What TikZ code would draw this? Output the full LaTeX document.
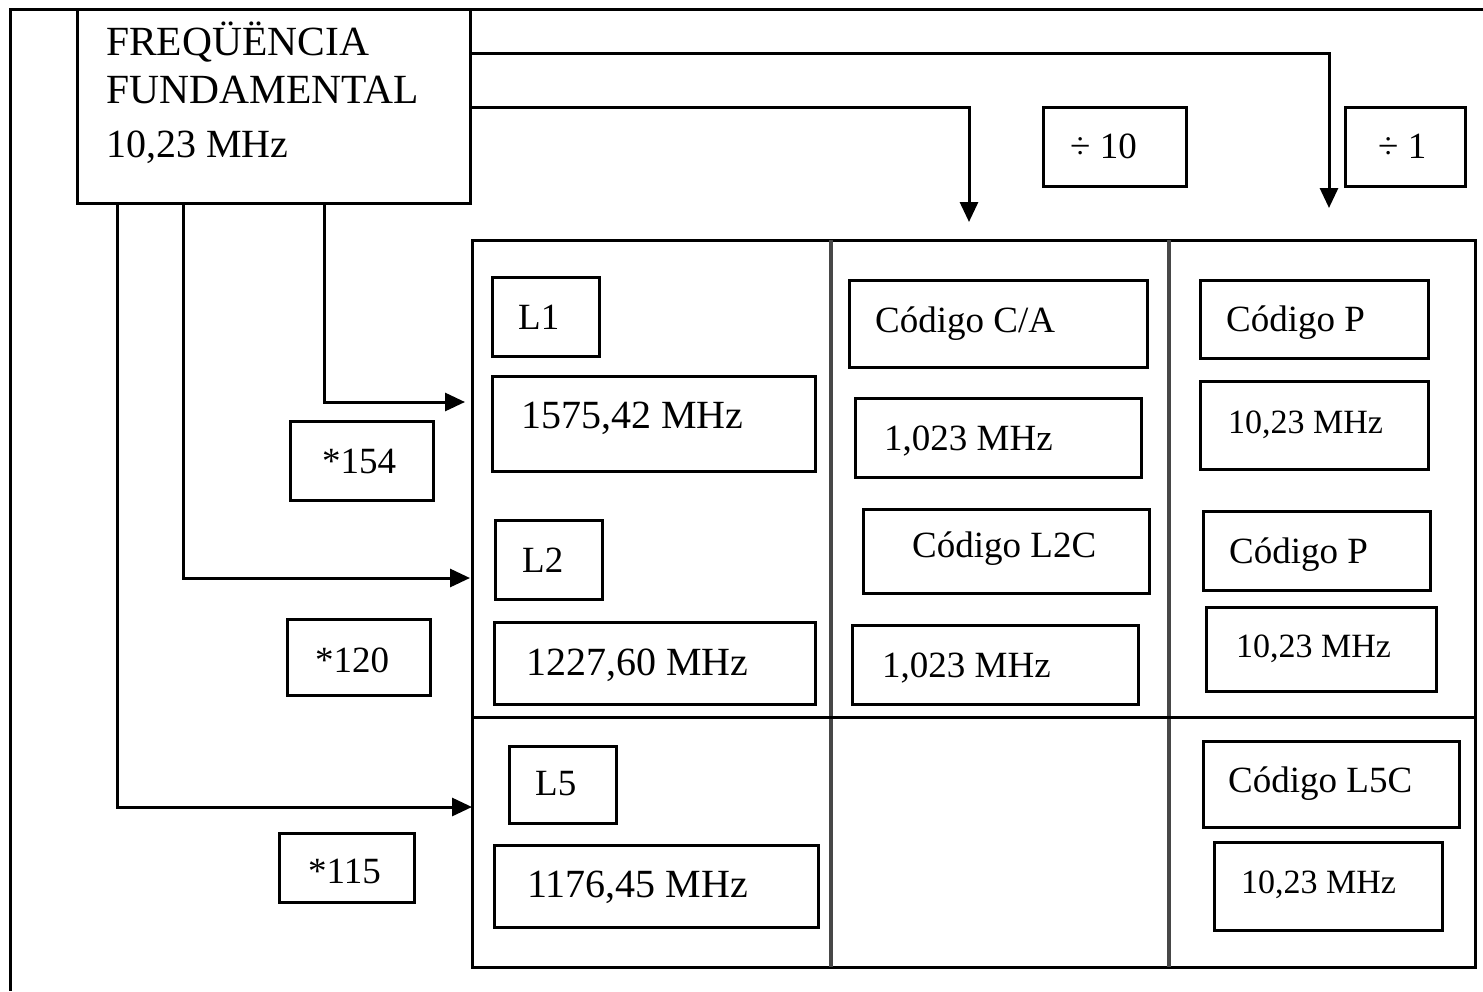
\documentclass[tikz,border=0pt]{standalone}
\usepackage{fontspec}
\setmainfont{Liberation Serif}
\usetikzlibrary{arrows.meta}
\tikzset{
  box/.style={draw, line width=3pt, anchor=north west, inner sep=0pt, outer sep=0pt},
  txt/.style={anchor=base west, inner sep=0pt, font=\fontsize{37}{44}\selectfont},
  big/.style={font=\fontsize{40}{48}\selectfont},
  huge/.style={font=\fontsize{41.5}{48}\selectfont},
  narrow/.style={font=\fontsize{34}{40}\selectfont},
  conn/.style={line width=3pt, -{Triangle[length=20pt,width=18pt]}},
  frameline/.style={line width=3pt},
  divider/.style={line width=3.2pt, draw=black!72},
}
\newcommand\bx[5]{\node[box, minimum width={#4pt-#2pt}, minimum height={#5pt-#3pt}] (#1) at (#2,#3) {};}
\begin{document}
\begin{tikzpicture}[x=1pt,y=-1pt]
\useasboundingbox (0,0) rectangle (1483,991);
% outer frame
\draw[frameline] (1483,9) -- (10,9) -- (10,991);
% fundamental frequency box
\bx{freq}{77}{9}{470}{203}
\node[txt,huge] (freq-t1) at (106,55) {FREQÜËNCIA};
\node[txt,huge] (freq-t2) at (106,103) {FUNDAMENTAL};
\node[txt,big] (freq-t3) at (106,157) {10,23 MHz};
% dividers boxes
\bx{div10}{1043}{107}{1186}{186}
\node[txt] (div10-t) at (1070,158) {÷ 10};
\bx{div1}{1345}{107}{1465}{186}
\node[txt] (div1-t) at (1378,158) {÷ 1};
% table
\bx{tbl}{472}{240}{1475}{967}
\draw[divider] (831,240) -- (831,967);
\draw[divider] (1169,240) -- (1169,967);
\draw[line width=3pt] (472,717) -- (1475,717);
% multipliers
\bx{m154}{290}{421}{433}{500}
\node[txt] (m154-t) at (322,473) {*154};
\bx{m120}{287}{619}{430}{695}
\node[txt] (m120-t) at (315,672) {*120};
\bx{m115}{279}{833}{414}{902}
\node[txt] (m115-t) at (308,883) {*115};
% left column
\bx{L1}{492}{277}{599}{356}
\node[txt] (L1-t) at (518,329) {L1};
\bx{f1}{492}{376}{815}{471}
\node[txt,big] (f1-t) at (521,428) {1575,42 MHz};
\bx{L2}{495}{520}{602}{599}
\node[txt] (L2-t) at (522,572) {L2};
\bx{f2}{494}{622}{815}{704}
\node[txt,big] (f2-t) at (526,675) {1227,60 MHz};
\bx{L5}{509}{746}{616}{823}
\node[txt] (L5-t) at (535,795) {L5};
\bx{f5}{494}{845}{818}{927}
\node[txt,big] (f5-t) at (527,897) {1176,45 MHz};
% middle column
\bx{ca}{849}{280}{1147}{367}
\node[txt] (ca-t) at (875,332) {Código C/A};
\bx{caf}{855}{398}{1141}{477}
\node[txt] (caf-t) at (884,450) {1,023 MHz};
\bx{l2c}{863}{509}{1149}{593}
\node[txt] (l2c-t) at (912,557) {Código L2C};
\bx{l2cf}{852}{625}{1138}{704}
\node[txt] (l2cf-t) at (882,677) {1,023 MHz};
% right column
\bx{p1}{1200}{280}{1428}{358}
\node[txt] (p1-t) at (1226,331) {Código P};
\bx{p1f}{1200}{381}{1428}{469}
\node[txt,narrow] (p1f-t) at (1228,433) {10,23 MHz};
\bx{p2}{1203}{511}{1430}{590}
\node[txt] (p2-t) at (1229,563) {Código P};
\bx{p2f}{1206}{607}{1436}{691}
\node[txt,narrow] (p2f-t) at (1236,657) {10,23 MHz};
\bx{l5c}{1203}{741}{1459}{827}
\node[txt] (l5c-t) at (1228,792) {Código L5C};
\bx{l5cf}{1214}{842}{1442}{930}
\node[txt,narrow] (l5cf-t) at (1241,893) {10,23 MHz};
% connectors
\coordinate (tipP) at (1329,208);
\coordinate (tipCA) at (969,222);
\draw[conn] ([yshift=-44pt]freq.north east) -| (tipP);
\draw[conn] ([yshift=-98pt]freq.north east) -| (tipCA);
\draw[conn,shorten >=7pt] ([xshift=247pt]freq.south west) |- ([yshift=-162pt]tbl.north west);
\draw[conn,shorten >=2pt] ([xshift=106pt]freq.south west) |- ([yshift=-338pt]tbl.north west);
\draw[conn] ([xshift=40pt]freq.south west) |- ([yshift=-567pt]tbl.north west);
\end{tikzpicture}
\end{document}
